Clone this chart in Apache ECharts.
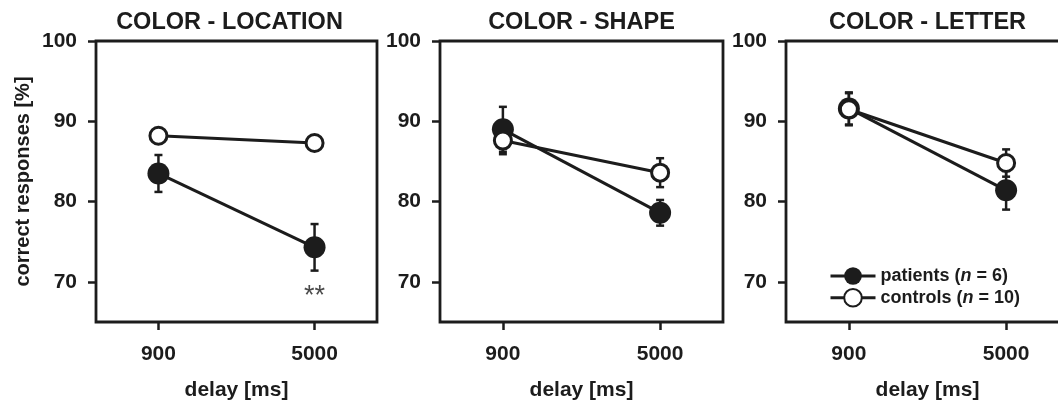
<!DOCTYPE html>
<html lang="en">
<head>
    <meta charset="UTF-8">
    <title>Correct responses by delay</title>
    <script src="https://cdn.jsdelivr.net/npm/echarts@6/dist/echarts.min.js"></script>
    <style>
        body { margin: 0; background: #fff; }
        #chart { width: 1058px; height: 401px; }
    </style>
</head>
<body>
<div id="chart"></div>
<script>
// data
const delays = ['900', '5000'];
const panelTitles = ['COLOR - LOCATION', 'COLOR - SHAPE', 'COLOR - LETTER'];
const yTicks = [70, 80, 90, 100];
const patientsMean = [[83.5, 74.3], [89.0, 78.6], [91.6, 81.4]];
const patientsErr  = [[2.3, 2.9], [2.8, 1.6], [2.0, 2.4]];
const controlsMean = [[88.2, 87.3], [87.6, 83.6], [91.5, 84.8]];
const controlsErr  = [[0.8, 0.8], [1.7, 1.8], [2.0, 1.7]];
const starMarks = [[0, 1, 68.2, '**']]; // panel, delay index, y, text

const ink = '#1c1c1c';
const font = 'Liberation Sans, Arial, sans-serif';
const gridLefts = [96, 440, 786];
const gridWidths = [281, 283, 283];

const chart = echarts.init(document.getElementById('chart'));

const grids = [], xAxes = [], yAxes = [], titles = [], series = [];

panelTitles.forEach((t, p) => {
    grids.push({
        left: gridLefts[p], top: 41, width: gridWidths[p], height: 281,
        outerBoundsMode: 'none', containLabel: false,
        show: true, borderColor: ink, borderWidth: 2.8, backgroundColor: 'transparent'
    });
    titles.push({
        text: t,
        left: gridLefts[p] + gridWidths[p] / 2 - (p === 0 ? 7 : 0),
        top: 11, padding: 0,
        textAlign: 'center',
        textStyle: { fontFamily: font, fontSize: 23.5, fontWeight: 'bold', color: ink }
    });
    xAxes.push({
        gridIndex: p, type: 'value', min: -0.4, max: 1.4,
        name: 'delay [ms]', nameLocation: 'middle', nameGap: 58,
        nameTextStyle: { fontFamily: font, fontSize: 21, fontWeight: 'bold', color: ink },
        axisLine: { show: false, onZero: false },
        axisTick: { show: true, length: 8, customValues: [0, 1], lineStyle: { color: ink, width: 2.5 } },
        axisLabel: {
            customValues: [0, 1], margin: 22,
            formatter: v => delays[v],
            fontFamily: font, fontSize: 21, fontWeight: 'bold', color: ink
        },
        splitLine: { show: false }
    });
    yAxes.push({
        gridIndex: p, type: 'value', min: 65, max: 100,
        name: p === 0 ? 'correct responses [%]' : '', nameLocation: 'middle', nameGap: 63,
        nameTextStyle: { fontFamily: font, fontSize: 20, fontWeight: 'bold', color: ink },
        axisLine: { show: false, onZero: false },
        axisTick: { show: true, length: 8, customValues: yTicks, lineStyle: { color: ink, width: 2.5 } },
        axisLabel: {
            customValues: yTicks, margin: 19,
            fontFamily: font, fontSize: 21, fontWeight: 'bold', color: ink
        },
        splitLine: { show: false }
    });

    // error bars (drawn beneath the markers)
    const errData = [];
    [[patientsMean, patientsErr], [controlsMean, controlsErr]].forEach(([m, e]) => {
        delays.forEach((d, i) => errData.push([i, m[p][i] - e[p][i], m[p][i] + e[p][i]]));
    });
    series.push({
        type: 'custom', xAxisIndex: p, yAxisIndex: p, z: 1, silent: true,
        renderItem: (params, api) => {
            const lo = api.coord([api.value(0), api.value(1)]);
            const hi = api.coord([api.value(0), api.value(2)]);
            const style = { stroke: ink, lineWidth: 2.5 };
            const cap = 4;
            return {
                type: 'group',
                children: [
                    { type: 'line', shape: { x1: lo[0], y1: lo[1], x2: hi[0], y2: hi[1] }, style },
                    { type: 'line', shape: { x1: lo[0] - cap, y1: lo[1], x2: lo[0] + cap, y2: lo[1] }, style },
                    { type: 'line', shape: { x1: hi[0] - cap, y1: hi[1], x2: hi[0] + cap, y2: hi[1] }, style }
                ]
            };
        },
        encode: { x: 0, y: [1, 2] },
        data: errData
    });

    series.push({
        name: 'patients', type: 'line', xAxisIndex: p, yAxisIndex: p, z: 2,
        data: patientsMean[p].map((v, i) => [i, v]),
        symbol: 'circle', symbolSize: 22, showSymbol: true,
        lineStyle: { color: ink, width: 3 },
        itemStyle: { color: ink, borderColor: ink, borderWidth: 0 }
    });
    series.push({
        name: 'controls', type: 'line', xAxisIndex: p, yAxisIndex: p, z: 3,
        data: controlsMean[p].map((v, i) => [i, v]),
        symbol: 'circle', symbolSize: 17, showSymbol: true,
        lineStyle: { color: ink, width: 3 },
        itemStyle: { color: '#fff', borderColor: ink, borderWidth: 3 }
    });
});

// significance marks
starMarks.forEach(([p, i, y, txt]) => {
    series.push({
        type: 'scatter', xAxisIndex: p, yAxisIndex: p, symbolSize: 0, silent: true,
        data: [[i, y]],
        label: {
            show: true, position: 'inside', formatter: txt,
            fontFamily: font, fontSize: 27, color: ink
        }
    });
});

chart.setOption({
    animation: false,
    title: titles,
    grid: grids,
    xAxis: xAxes,
    yAxis: yAxes,
    legend: {
        data: ['patients', 'controls'],
        orient: 'vertical', left: 824, top: 262,
        itemWidth: 45, itemHeight: 22, itemGap: 3,
        selectedMode: false,
        lineStyle: { width: 3 },
        formatter: name => name === 'patients'
            ? '{b|patients (}{i|n}{b| = 6)}'
            : '{b|controls (}{i|n}{b| = 10)}',
        textStyle: {
            rich: {
                b: { fontFamily: font, fontSize: 18, fontWeight: 'bold', color: ink },
                i: { fontFamily: font, fontSize: 18, fontWeight: 'bold', fontStyle: 'italic', color: ink }
            }
        }
    },
    series: series
});
</script>
</body>
</html>
